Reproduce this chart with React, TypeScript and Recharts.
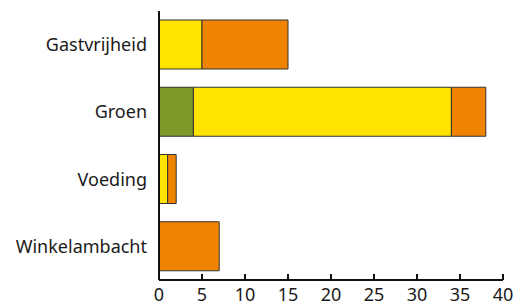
import { Bar, BarChart, XAxis, YAxis } from "recharts";

const categories = ["Gastvrijheid", "Groen", "Voeding", "Winkelambacht"];
const groenValues = [0, 4, 0, 0];
const geelValues = [5, 30, 1, 0];
const oranjeValues = [10, 4, 1, 7];
const xTicks = [0, 5, 10, 15, 20, 25, 30, 35, 40];

const data = categories.map((name, i) => ({
  name,
  groen: groenValues[i],
  geel: geelValues[i],
  oranje: oranjeValues[i],
}));

const font = "'Noto Sans', sans-serif";
const tickStyle = { fill: "#1a1a1a", fontSize: 18, fontFamily: font };

export default function App() {
  return (
    <div style={{ position: "absolute", left: 0, top: 0, background: "#fff" }}>
      <BarChart
        width={519}
        height={302}
        data={data}
        layout="vertical"
        margin={{ top: 11, right: 16, bottom: 0, left: 0 }}
        barCategoryGap={9}
      >
        <XAxis
          type="number"
          domain={[0, 40]}
          ticks={xTicks}
          interval={0}
          height={22}
          tickSize={-6}
          tickMargin={14}
          tick={tickStyle}
          axisLine={{ stroke: "#111", strokeWidth: 2 }}
          tickLine={{ stroke: "#111", strokeWidth: 2 }}
        />
        <YAxis
          type="category"
          dataKey="name"
          width={159}
          tickLine={false}
          tickMargin={6}
          tick={tickStyle}
          axisLine={{ stroke: "#111", strokeWidth: 2 }}
        />
        <Bar dataKey="groen" stackId="a" fill="#7e992a" stroke="#333" strokeWidth={1} isAnimationActive={false} />
        <Bar dataKey="geel" stackId="a" fill="#ffe400" stroke="#333" strokeWidth={1} isAnimationActive={false} />
        <Bar dataKey="oranje" stackId="a" fill="#f08400" stroke="#333" strokeWidth={1} isAnimationActive={false} />
      </BarChart>
    </div>
  );
}
